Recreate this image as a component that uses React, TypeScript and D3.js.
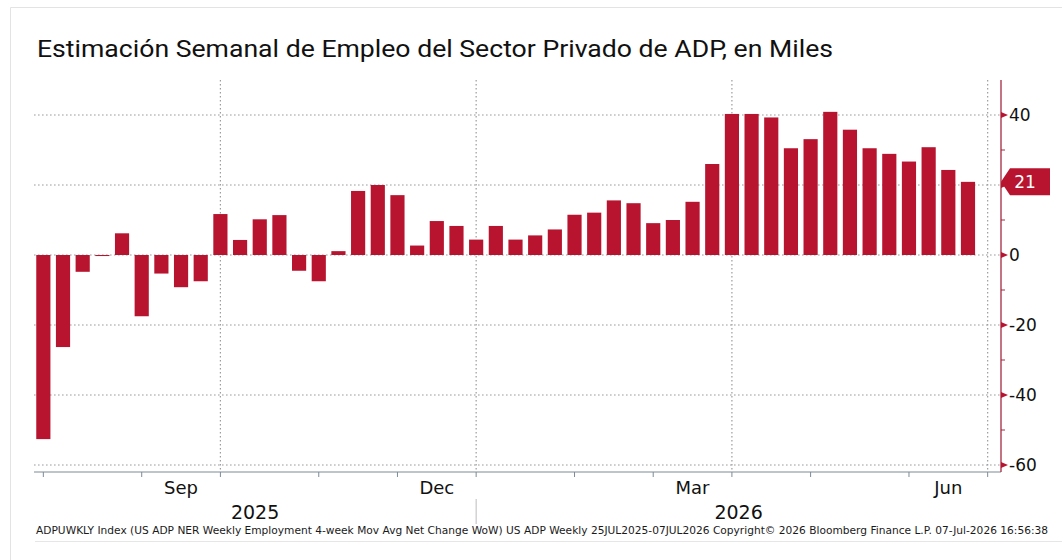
import { useMemo } from "react";
import * as d3 from "d3";

// weekly 4-week moving-average net change, thousands
const weekValues = [
  -52.6, -26.3, -4.8, -0.3, 6.2, -17.5, -5.3, -9.2, -7.5, 11.7, 4.3, 10.2,
  11.4, -4.5, -7.5, 1.1, 18.3, 20, 17.1, 2.7, 9.7, 8.3, 4.4, 8.3,
  4.4, 5.6, 7.3, 11.5, 12.1, 15.6, 14.8, 9.1, 10, 15.2, 26, 40.3,
  40.3, 39.3, 30.5, 33.1, 40.9, 35.8, 30.5, 28.9, 26.7, 30.8, 24.3, 20.9,
];
// one empty slot after the last week, where the July tick sits
const slotCount = weekValues.length + 1;

const monthTickSlots = [0, 5, 9, 14, 18, 22, 27, 31, 35, 39, 44, 48];
const quarterSlots = [9, 22, 35, 48];
const monthLabels = ["Sep", "Dec", "Mar", "Jun"];
const monthLabelFrom = [5, 18, 31, 44];
const monthLabelTo = [9, 22, 35, 48];
const yearLabels = ["2025", "2026"];
const yearSeparatorSlot = 22;

const yMajor = [-60, -40, -20, 0, 20, 40];
const yMinor = [-50, -30, -10, 10, 30];

const title = "Estimación Semanal de Empleo del Sector Privado de ADP, en Miles";
const footer =
  "ADPUWKLY Index (US ADP NER Weekly Employment 4-week Mov Avg Net Change WoW) US ADP Weekly 25JUL2025-07JUL2026  Copyright\u00A9 2026 Bloomberg Finance L.P.  07-Jul-2026 16:56:38";

const W = 1062;
const H = 560;
const plot = { left: 34, right: 1001, top: 80, bottom: 472 };
const RED = "#b8142f";
const AXIS_RED = "#a3293f";
const GRID = "#9c9c9c";
const AXIS_FONT = "'DejaVu Sans', Verdana, sans-serif";

export default function App() {
  const x = useMemo(
    () =>
      d3
        .scaleBand<number>()
        .domain(d3.range(slotCount))
        .range([33.5, 997.5])
        .paddingInner(0.28)
        .paddingOuter(0.14),
    []
  );
  const y = useMemo(
    () => d3.scaleLinear().domain([-62, 50]).range([plot.bottom, plot.top]),
    []
  );
  const cx = (i: number) => (x(i) ?? 0) + x.bandwidth() / 2;

  const last = weekValues[weekValues.length - 1];
  const lastY = y(last);
  const tagX = plot.right;

  return (
    <div style={{ position: "fixed", left: 0, top: 0, background: "#fff" }}>
      <svg width={W} height={H} style={{ display: "block" }}>
        <rect x={0} y={0} width={W} height={H} fill="#fff" />
        {/* card border */}
        <path d={`M10.5,${H} V7.5 H${W}`} fill="none" stroke="#e3e3e3" />
        <line x1={35} x2={W} y1={541.5} y2={541.5} stroke="#e6e6e6" />

        <text
          x={37}
          y={57}
          fontFamily="Roboto, 'Noto Sans', sans-serif"
          fontSize={24.5}
          textLength={796}
          lengthAdjust="spacingAndGlyphs"
          fill="#111"
        >
          {title}
        </text>

        {/* horizontal grid */}
        {yMajor.map((v) => (
          <line
            key={`h${v}`}
            x1={plot.left}
            x2={plot.right}
            y1={y(v)}
            y2={y(v)}
            stroke={GRID}
            strokeWidth={1.2}
            strokeDasharray="1.6 2.4"
          />
        ))}
        {/* vertical grid at quarter starts */}
        {quarterSlots.map((s) => (
          <line
            key={`v${s}`}
            x1={cx(s)}
            x2={cx(s)}
            y1={plot.top}
            y2={plot.bottom}
            stroke={GRID}
            strokeWidth={1.2}
            strokeDasharray="1.6 2.4"
          />
        ))}

        {/* bars */}
        {weekValues.map((v, i) => (
          <rect
            key={i}
            x={x(i)}
            y={Math.min(y(v), y(0))}
            width={x.bandwidth()}
            height={Math.max(1, Math.abs(y(v) - y(0)))}
            fill={RED}
          />
        ))}

        {/* bottom axis */}
        <line
          x1={plot.left}
          x2={plot.right}
          y1={plot.bottom}
          y2={plot.bottom}
          stroke="#7d8b97"
          strokeWidth={1.2}
        />
        {monthTickSlots.map((s) => (
          <line
            key={`t${s}`}
            x1={cx(s)}
            x2={cx(s)}
            y1={plot.bottom}
            y2={plot.bottom + 5}
            stroke="#7d8b97"
          />
        ))}
        {monthLabels.map((m, k) => (
          <text
            key={m}
            x={(cx(monthLabelFrom[k]) + cx(monthLabelTo[k])) / 2}
            y={494}
            textAnchor="middle"
            fontFamily={AXIS_FONT}
            fontSize={18}
            fill="#111"
          >
            {m}
          </text>
        ))}
        <line
          x1={cx(yearSeparatorSlot)}
          x2={cx(yearSeparatorSlot)}
          y1={499}
          y2={524}
          stroke="#bdbdbd"
        />
        <text
          x={(plot.left + cx(yearSeparatorSlot)) / 2}
          y={519}
          textAnchor="middle"
          fontFamily={AXIS_FONT}
          fontSize={19}
          fill="#111"
        >
          {yearLabels[0]}
        </text>
        <text
          x={(cx(yearSeparatorSlot) + plot.right) / 2}
          y={519}
          textAnchor="middle"
          fontFamily={AXIS_FONT}
          fontSize={19}
          fill="#111"
        >
          {yearLabels[1]}
        </text>

        {/* right axis */}
        <line
          x1={plot.right}
          x2={plot.right}
          y1={plot.top}
          y2={plot.bottom}
          stroke={AXIS_RED}
          strokeWidth={1.3}
        />
        {yMinor.map((v) => (
          <line
            key={`m${v}`}
            x1={plot.right}
            x2={plot.right + 4}
            y1={y(v)}
            y2={y(v)}
            stroke={AXIS_RED}
          />
        ))}
        {yMajor.map((v) => (
          <path
            key={`a${v}`}
            d={`M${plot.right},${y(v) - 3} L${plot.right + 7},${y(v)} L${plot.right},${y(v) + 3} Z`}
            fill={RED}
          />
        ))}
        {yMajor
          .filter((v) => Math.abs(y(v) - lastY) > 14)
          .map((v) => (
            <text
              key={`l${v}`}
              x={plot.right + 8}
              y={y(v)}
              dy="0.36em"
              fontFamily={AXIS_FONT}
              fontSize={17}
              fill="#111"
            >
              {v < 0 ? `-${Math.abs(v)}` : v}
            </text>
          ))}

        {/* last value tag */}
        <path
          d={`M${tagX},${lastY} L${tagX + 9},${lastY - 13.5} H1050 V${lastY + 13.5} H${tagX + 9} Z`}
          fill={RED}
        />
        <text
          x={1025}
          y={lastY}
          dy="0.36em"
          textAnchor="middle"
          fontFamily={AXIS_FONT}
          fontSize={17}
          fill="#fff"
        >
          {d3.format(".0f")(last)}
        </text>

        <text
          x={36}
          y={534}
          fontFamily={AXIS_FONT}
          fontSize={10.5}
          textLength={1012}
          lengthAdjust="spacingAndGlyphs"
          fill="#1a1a1a"
        >
          {footer}
        </text>
      </svg>
    </div>
  );
}
